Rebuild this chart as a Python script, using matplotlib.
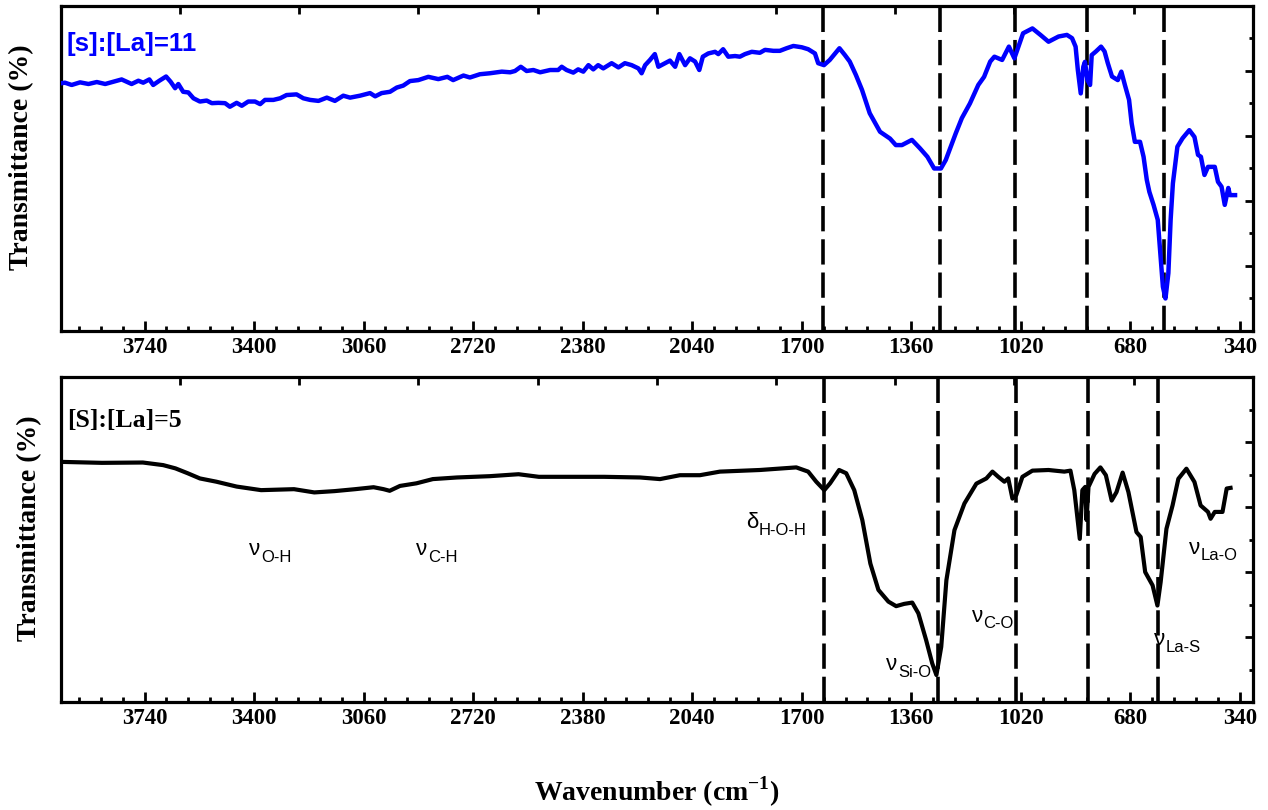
import numpy as np
import matplotlib.pyplot as plt
from matplotlib.ticker import MultipleLocator, FixedLocator

plt.rcParams['font.family'] = ['Liberation Serif', 'DejaVu Serif']
plt.rcParams['font.weight'] = 'bold'

# FTIR spectra: wavenumber (cm-1) and transmittance (arb. units)
wn_s11 = [4000, 3987, 3966, 3940, 3914, 3888, 3862, 3837, 3811, 3780, 3759, 3744, 3725, 3713,
          3694, 3673, 3659, 3645, 3635, 3620, 3604, 3588, 3568, 3547, 3531, 3511, 3490, 3475,
          3454, 3438, 3418, 3397, 3381, 3366, 3340, 3319, 3299, 3268, 3247,
          3226, 3200, 3174, 3149, 3123, 3102, 3071, 3040, 3024, 3004, 2978, 2957, 2937, 2916,
          2890, 2859, 2828, 2800, 2782, 2750, 2730, 2699, 2668, 2631, 2605, 2590, 2572, 2554,
          2533, 2512, 2481, 2456, 2445,
          2430, 2409, 2394, 2378, 2362, 2347, 2332, 2316, 2290, 2269, 2249, 2228, 2207, 2197,
          2186, 2171, 2156, 2145, 2124, 2109, 2093, 2080, 2062, 2047, 2031, 2018, 2007, 1990,
          1969, 1959, 1944, 1928, 1907, 1892, 1876, 1855, 1830, 1814, 1788, 1768, 1747, 1726,
          1700, 1680, 1659, 1649, 1631, 1613,
          1583, 1566, 1551, 1532, 1513, 1489, 1457, 1426, 1408, 1389, 1358, 1333, 1310, 1289,
          1268, 1253, 1222, 1203, 1178, 1152, 1134, 1115, 1102, 1078, 1057, 1040, 1024, 1013,
          984, 959, 934, 903, 877, 861, 850, 843, 834, 826, 821, 813, 805, 800, 787, 771, 760,
          750, 737, 719, 708, 697, 684, 676, 666, 650, 639, 629, 621, 608, 595, 587, 579, 571,
          562, 555, 548, 534, 518, 497, 481, 470, 461, 450, 439, 418, 408, 397, 387, 376, 371, 355]
t_s11 = [7.62, 7.64, 7.57, 7.65, 7.60, 7.66, 7.60, 7.67, 7.74, 7.60, 7.70, 7.64, 7.74, 7.57,
         7.70, 7.83, 7.67, 7.47, 7.60, 7.36, 7.34, 7.16, 7.06, 7.09, 7.01, 7.02, 7.01, 6.90,
         7.02, 6.93, 7.06, 7.06, 6.98, 7.11, 7.11, 7.16, 7.26, 7.28, 7.16,
         7.11, 7.08, 7.18, 7.08, 7.24, 7.18, 7.24, 7.32, 7.22, 7.32, 7.36, 7.49, 7.55, 7.69,
         7.72, 7.82, 7.75, 7.82, 7.72, 7.86, 7.80, 7.90, 7.93, 7.98, 7.96, 8.00, 8.13, 8.00,
         8.03, 7.96, 8.03, 8.03, 8.13,
         8.03, 7.95, 8.05, 7.98, 8.18, 8.05, 8.18, 8.08, 8.24, 8.11, 8.24, 8.18, 8.08, 7.93,
         8.18, 8.34, 8.52, 8.13, 8.24, 8.32, 8.13, 8.52, 8.18, 8.39, 8.29, 8.03, 8.44, 8.54,
         8.59, 8.52, 8.67, 8.44, 8.46, 8.44, 8.52, 8.59, 8.56, 8.65, 8.62, 8.62, 8.70, 8.77,
         8.73, 8.67, 8.54, 8.24, 8.18, 8.34,
         8.70, 8.49, 8.29, 7.88, 7.42, 6.70, 6.13, 5.92, 5.72, 5.72, 5.88, 5.62, 5.36, 5.00,
         5.00, 5.26, 6.08, 6.55, 7.00, 7.57, 7.82, 8.29, 8.44, 8.34, 8.75, 8.39, 8.85, 9.16,
         9.31, 9.11, 8.90, 9.06, 9.11, 9.01, 8.75, 8.03, 7.31, 8.13, 8.28, 7.72, 7.57, 8.49, 8.60, 8.75, 8.60,
         8.24, 7.83, 7.72, 7.98, 7.57, 7.11, 6.39, 5.82, 5.82, 5.36, 4.65, 4.28, 3.88, 3.42, 2.39, 1.36, 1.00,
         1.78, 3.42, 4.54, 5.67, 5.93, 6.18, 5.97, 5.42, 5.36, 4.80, 5.05, 5.05, 4.59, 4.44, 3.88, 4.40, 4.18, 4.18]

wn_s5 = [3998, 3872, 3745, 3682, 3644, 3606, 3568, 3517, 3454, 3378, 3276, 3213, 3150, 3086,
         3029, 2998, 2979, 2947, 2896, 2845, 2770, 2668, 2579, 2516, 2415, 2313, 2202, 2140,
         2078, 2016, 1954, 1830, 1717, 1680, 1655, 1630, 1612, 1584, 1562, 1537, 1512, 1487,
         1462, 1431, 1407, 1382, 1357, 1338, 1314, 1295, 1282, 1267, 1251, 1226, 1195, 1158,
         1127, 1108, 1090, 1071, 1059, 1046, 1034, 1015, 984, 934, 885, 866, 854, 837, 829,
         820, 816, 810, 791, 773, 756, 738, 723, 704, 686, 661, 648, 634, 611, 596, 586, 568,
         549, 531, 506, 481, 462, 439, 431, 418, 394, 381, 369]
t_s5 = [7.39, 7.36, 7.37, 7.29, 7.19, 7.04, 6.88, 6.78, 6.63, 6.52, 6.55, 6.45, 6.49, 6.55,
        6.61, 6.55, 6.50, 6.65, 6.73, 6.86, 6.91, 6.95, 7.01, 6.93, 6.93, 6.93, 6.91, 6.86,
        6.98, 6.98, 7.09, 7.14, 7.22, 7.09, 6.78, 6.52, 6.73, 7.14, 7.04, 6.52, 5.60, 4.26,
        3.45, 3.09, 2.95, 3.02, 3.06, 2.73, 1.91, 1.19, 0.83, 1.70, 3.75, 5.29, 6.11, 6.72,
        6.88, 7.09, 6.93, 6.78, 6.88, 6.26, 6.37, 6.93, 7.12, 7.14, 7.09, 7.12, 6.52, 5.02, 6.52,
        6.62, 5.60, 6.62, 7.02, 7.22, 6.98, 6.20, 6.46, 7.06, 6.46, 5.23, 5.08, 4.00, 3.59, 2.97, 3.69, 5.33,
        6.05, 6.87, 7.18, 6.77, 6.05, 5.85, 5.64, 5.85, 5.85, 6.57, 6.59]

# dashed band markers
vlines_s11 = [1633, 1272, 1039, 815, 577]
vlines_s5 = [1630, 1276, 1034, 811, 595]

# band assignments on the lower panel: symbol, subscript, wavenumber, y
bands = [("ν", "O-H", 3415, 4.52),
         ("ν", "C-H", 2896, 4.52),
         ("δ", "H-O-H", 1873, 5.35),
         ("ν", "Si-O", 1438, 0.98),
         ("ν", "C-O", 1173, 2.47),
         ("ν", "La-S", 607, 1.75),
         ("ν", "La-O", 499, 4.57)]

xticks_bottom = np.arange(3740, 300, -340)
xticks_top = np.arange(3630, 299, -370)

fig = plt.figure(figsize=(12.68, 8.10), dpi=100)
ax1 = fig.add_axes([0.0479, 0.5914, 0.9401, 0.4012])
ax2 = fig.add_axes([0.0479, 0.1333, 0.9401, 0.4012])


def style(ax):
    ax.set_xlim(4000, 300)
    ax.set_ylim(0, 10)
    for sp in ax.spines.values():
        sp.set_linewidth(2.3)
    ax.xaxis.set_major_locator(FixedLocator(xticks_bottom))
    ax.xaxis.set_minor_locator(MultipleLocator(68))
    ax.tick_params(axis='x', which='major', direction='in', length=7, width=2,
                   labelsize=16.5, pad=4)
    ax.tick_params(axis='x', which='minor', direction='in', length=3.5, width=2)
    ax.yaxis.set_ticks_position('right')
    ax.yaxis.set_major_locator(FixedLocator([2, 4, 6, 8]))
    ax.yaxis.set_minor_locator(FixedLocator([1, 3, 5, 7, 9]))
    ax.tick_params(axis='y', which='major', direction='in', length=6, width=2,
                   labelright=False, labelleft=False)
    ax.tick_params(axis='y', which='minor', direction='in', length=3, width=2)
    for lab in ax.get_xticklabels():
        lab.set_fontweight('bold')
    # ticks along the top edge
    top = ax.twiny()
    top.set_xlim(4000, 300)
    top.xaxis.set_major_locator(FixedLocator(xticks_top))
    top.tick_params(axis='x', direction='in', length=5.5, width=2, labeltop=False)
    for sp in top.spines.values():
        sp.set_visible(False)


style(ax1)
style(ax2)

ax1.plot(wn_s11, t_s11, color='#0000ff', lw=3.2, solid_joinstyle='round', zorder=3)
ax2.plot(wn_s5, t_s5, color='black', lw=3.0, solid_joinstyle='round', zorder=3)

for v in vlines_s11:
    ax1.axvline(v, color='black', lw=2.6, dashes=(7, 2.2), zorder=2)
for v in vlines_s5:
    ax2.axvline(v, color='black', lw=2.6, dashes=(7, 2.2), zorder=2)

ax1.text(0.005, 0.882, "[s]:[La]=11", transform=ax1.transAxes, color='#0000ff',
         family='Liberation Sans', fontweight='bold', fontsize=18.5, va='center', ha='left')
ax2.text(0.0055, 0.865, "[S]:[La]=5", transform=ax2.transAxes, color='black',
         fontweight='bold', fontsize=18.5, va='center', ha='left')

for sym, sub, x, y in bands:
    t = ax2.text(x, y, sym, family='Liberation Sans', fontweight='normal', fontsize=16,
                 ha='left', va='baseline')
    ax2.annotate(sub, xy=(1, 0), xycoords=t, xytext=(0.5, -1), textcoords='offset points',
                 family='Liberation Sans', fontweight='normal', fontsize=12,
                 ha='left', va='baseline')

fig.text(22 / 1268, 1 - 157 / 810, "Transmittance (%)", rotation=90, fontsize=20,
         fontweight='bold', ha='center', va='center')
fig.text(30 / 1268, 1 - 528 / 810, "Transmittance (%)", rotation=90, fontsize=20,
         fontweight='bold', ha='center', va='center')
fig.text(657 / 1268, 1 - 792 / 810, r"Wavenumber (cm$^{\mathregular{-1}}$)", fontsize=20,
         fontweight='bold', ha='center', va='center')

fig.savefig('out.png', dpi=100)
